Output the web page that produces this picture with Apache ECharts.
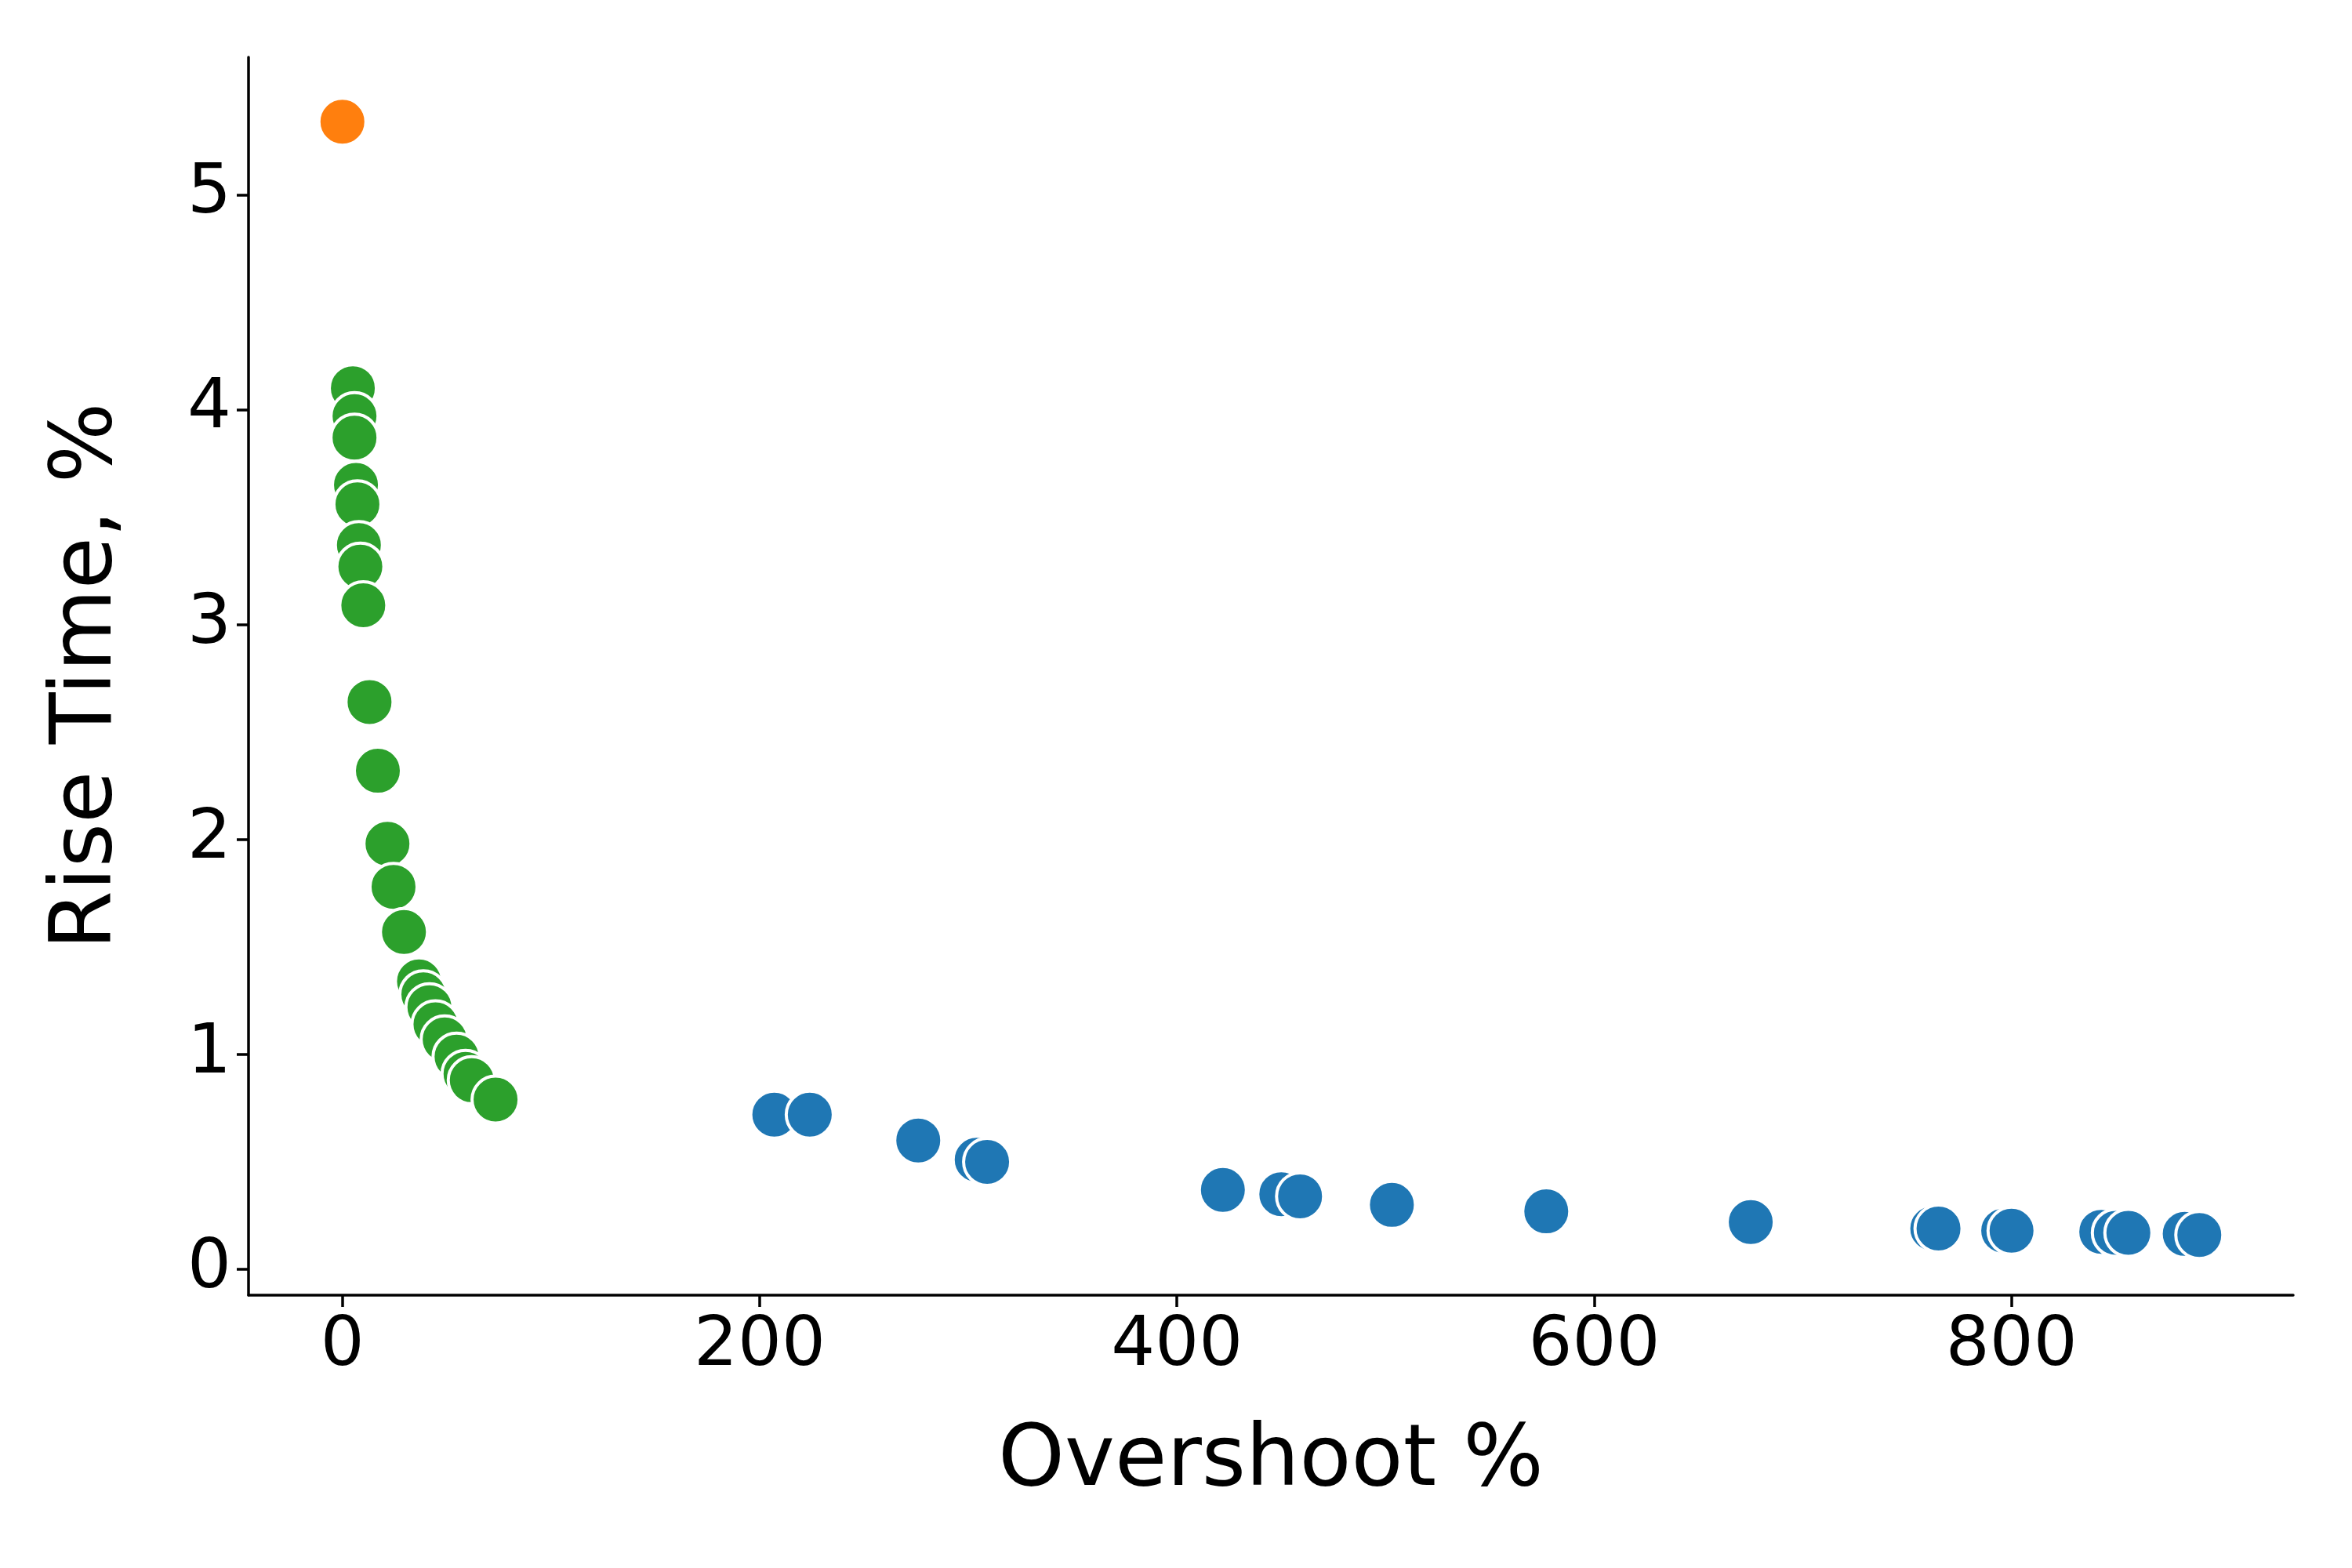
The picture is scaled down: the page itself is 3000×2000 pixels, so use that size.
<!DOCTYPE html>
<html>
<head>
<meta charset="utf-8">
<script src="https://cdn.jsdelivr.net/npm/echarts@6/dist/echarts.min.js"></script>
<style>
  html, body { margin: 0; padding: 0; background: #fff; }
  #chart { width: 3000px; height: 2000px; }
</style>
</head>
<body>
<div id="chart"></div>
<script>
// overshoot %, rise time
const orangePoints = [[0, 5.34]]
const greenPoints = [
  [5, 4.10], [5.8, 3.97], [5.8, 3.87], [6.5, 3.65], [7.2, 3.56], [7.9, 3.37],
  [8.6, 3.27], [10, 3.09], [13, 2.64], [17, 2.32], [21.6, 1.98], [24.5, 1.78],
  [29.5, 1.57], [36.7, 1.34], [38.8, 1.28], [41.7, 1.22], [44.6, 1.14],
  [49, 1.07], [54.7, 0.99], [59, 0.91], [62, 0.88], [73.4, 0.79],
]
const bluePoints = [
  [207, 0.72], [224, 0.72], [276, 0.60], [304, 0.51], [309, 0.50],
  [422, 0.37], [450, 0.35], [459, 0.34], [503, 0.30], [577, 0.27],
  [675, 0.22], [762, 0.19], [765, 0.19], [796, 0.18], [800, 0.18],
  [843, 0.175], [850, 0.17], [856, 0.17], [883, 0.165], [890, 0.16],
]

const font = 'DejaVu Sans'
const axisLine = { show: true, onZero: false, lineStyle: { color: '#000', width: 3.5 } }
const axisTick = { show: true, length: 15, lineStyle: { color: '#000', width: 3.5 } }
const axisLabel = { color: '#000', fontFamily: font, fontSize: 88, margin: 22, showMinLabel: false, showMaxLabel: false }

function scatter(data, color) {
  return {
    type: 'scatter',
    data,
    symbolSize: 60,
    itemStyle: { color, borderColor: '#fff', borderWidth: 4, opacity: 1 },
  }
}

const chart = echarts.init(document.getElementById('chart'))
chart.setOption({
  animation: false,
  grid: { left: 317, right: 75, top: 73, bottom: 348 },
  xAxis: {
    type: 'value', min: -45, max: 935, splitNumber: 5,
    name: 'Overshoot %', nameLocation: 'middle', nameGap: 160,
    nameTextStyle: { color: '#000', fontFamily: font, fontSize: 108 },
    axisLine, axisTick, axisLabel, splitLine: { show: false },
  },
  yAxis: {
    type: 'value', min: -0.12, max: 5.64, splitNumber: 6,
    name: 'Rise Time, %', nameLocation: 'middle', nameGap: 150,
    nameTextStyle: { color: '#000', fontFamily: font, fontSize: 108 },
    axisLine, axisTick, axisLabel, splitLine: { show: false },
  },
  series: [
    scatter(bluePoints, '#1f77b4'),
    scatter(greenPoints, '#2ca02c'),
    scatter(orangePoints, '#ff7f0e'),
  ],
})
</script>
</body>
</html>
